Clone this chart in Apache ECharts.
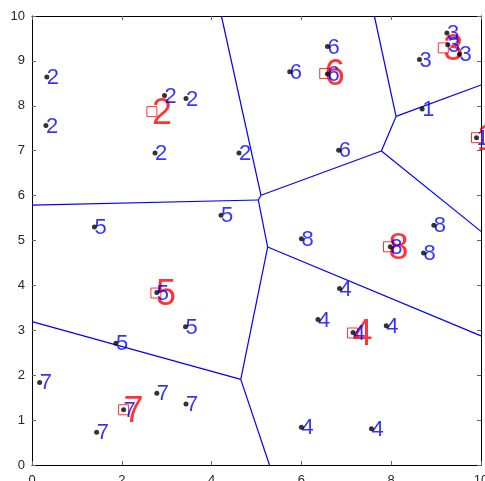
<!DOCTYPE html>
<html>
<head>
<meta charset="utf-8">
<script src="https://cdn.jsdelivr.net/npm/echarts@6/dist/echarts.min.js"></script>
<style>
  html, body { margin: 0; padding: 0; background: #fff; }
  #myChart { width: 485px; height: 481px; }
</style>
</head>
<body>
<div id="myChart"></div>
<script>
// sample points (black dots, blue cluster number)
const ptX = [0.33, 0.31, 2.95, 3.43, 2.74, 4.61,
             1.39, 4.21, 2.78, 3.42, 1.87,
             0.17, 2.78, 3.43, 2.04, 1.44,
             6.58, 5.74, 6.58, 6.83,
             9.24, 9.26, 9.52, 8.63,
             8.69, 9.90,
             8.95, 6.00, 7.98, 8.72,
             6.85, 6.37, 7.15, 7.89, 6.00, 7.56];
const ptY = [8.64, 7.56, 8.23, 8.16, 6.95, 6.95,
             5.30, 5.56, 3.84, 3.08, 2.71,
             1.84, 1.60, 1.36, 1.23, 0.73,
             9.32, 8.76, 8.71, 7.01,
             9.62, 9.36, 9.15, 9.03,
             7.93, 7.29,
             5.34, 5.04, 4.86, 4.72,
             3.93, 3.24, 2.95, 3.10, 0.84, 0.81];
const ptLabel = ['2', '2', '2', '2', '2', '2',
                 '5', '5', '5', '5', '5',
                 '7', '7', '7', '7', '7',
                 '6', '6', '6', '6',
                 '3', '3', '3', '3',
                 '1', '1',
                 '8', '8', '8', '8',
                 '4', '4', '4', '4', '4', '4'];

// cluster centres (red squares, big red number) - also the voronoi sites
const ctrX = [9.90, 2.67, 9.16, 7.14, 2.76, 6.52, 2.04, 7.94];
const ctrY = [7.29, 7.87, 9.29, 2.94, 3.83, 8.72, 1.23, 4.86];
const ctrLabel = ['1', '2', '3', '4', '5', '6', '7', '8'];

const xTicks = [0, 2, 4, 6, 8, 10];
const yTicks = [0, 1, 2, 3, 4, 5, 6, 7, 8, 9, 10];

// voronoi cells: clip the box by half-planes
function voronoiEdges(sx, sy, x0, x1, y0, y1) {
  const segs = [];
  const seen = {};
  const eps = 1e-6;
  for (let i = 0; i < sx.length; i++) {
    let poly = [[x0, y0], [x1, y0], [x1, y1], [x0, y1]];
    for (let j = 0; j < sx.length; j++) {
      if (j === i) continue;
      const a = 2 * (sx[j] - sx[i]), b = 2 * (sy[j] - sy[i]);
      const c = sx[j] * sx[j] + sy[j] * sy[j] - sx[i] * sx[i] - sy[i] * sy[i];
      const f = p => a * p[0] + b * p[1] - c;
      const out = [];
      for (let k = 0; k < poly.length; k++) {
        const p = poly[k], q = poly[(k + 1) % poly.length];
        const fp = f(p), fq = f(q);
        if (fp <= 0) out.push(p);
        if ((fp < 0 && fq > 0) || (fp > 0 && fq < 0)) {
          const t = fp / (fp - fq);
          out.push([p[0] + t * (q[0] - p[0]), p[1] + t * (q[1] - p[1])]);
        }
      }
      poly = out;
    }
    for (let k = 0; k < poly.length; k++) {
      const p = poly[k], q = poly[(k + 1) % poly.length];
      const onBox = (Math.abs(p[0] - x0) < eps && Math.abs(q[0] - x0) < eps) ||
                    (Math.abs(p[0] - x1) < eps && Math.abs(q[0] - x1) < eps) ||
                    (Math.abs(p[1] - y0) < eps && Math.abs(q[1] - y0) < eps) ||
                    (Math.abs(p[1] - y1) < eps && Math.abs(q[1] - y1) < eps);
      if (onBox) continue;
      const k1 = p[0].toFixed(4) + ',' + p[1].toFixed(4);
      const k2 = q[0].toFixed(4) + ',' + q[1].toFixed(4);
      const key = k1 < k2 ? k1 + '|' + k2 : k2 + '|' + k1;
      if (seen[key]) continue;
      seen[key] = true;
      segs.push({ coords: [p, q] });
    }
  }
  return segs;
}

const edges = voronoiEdges(ctrX, ctrY, 0, 10, 0, 10);
const ptData = ptX.map((x, i) => ({ value: [x, ptY[i]], name: ptLabel[i] }));
const ctrData = ctrX.map((x, i) => ({ value: [x, ctrY[i]], name: ctrLabel[i] }));

const font = 'Liberation Sans, Arial, Helvetica, sans-serif';
const axisCommon = {
  type: 'value',
  min: 0,
  max: 10,
  axisLine: { show: true, onZero: false, lineStyle: { color: '#000', width: 1 } },
  axisTick: { show: true, inside: true, length: 4, lineStyle: { color: '#666' } },
  splitLine: { show: false }
};

let myChart = echarts.init(document.getElementById('myChart'));
myChart.setOption({
  animation: false,
  backgroundColor: '#fff',
  grid: { left: 32, right: 4, top: 16, bottom: 16, containLabel: false, outerBoundsMode: 'none' },
  xAxis: [
    Object.assign({}, axisCommon, {
      position: 'bottom', interval: 2,
      axisLabel: { margin: 9, fontSize: 13, color: '#262626', fontFamily: font,
        formatter: v => xTicks.indexOf(v) >= 0 ? String(v) : '' }
    }),
    Object.assign({}, axisCommon, { position: 'top', interval: 2, axisLabel: { show: false } })
  ],
  yAxis: [
    Object.assign({}, axisCommon, {
      position: 'left', interval: 1,
      axisLabel: { margin: 7, fontSize: 13, color: '#262626', fontFamily: font,
        formatter: v => yTicks.indexOf(v) >= 0 ? String(v) : '' }
    }),
    Object.assign({}, axisCommon, { position: 'right', interval: 1, axisLabel: { show: false } })
  ],
  series: [
    {
      type: 'lines',
      coordinateSystem: 'cartesian2d',
      z: 1,
      lineStyle: { color: '#0000ff', width: 1.2, opacity: 1 },
      data: edges
    },
    {
      // big red numbers
      type: 'scatter',
      z: 2,
      symbolSize: 0,
      data: ctrData,
      label: {
        show: true, position: 'inside', align: 'left', verticalAlign: 'middle',
        offset: [0, 2], formatter: p => p.name,
        fontSize: 36, color: '#ff0000', fontFamily: font
      }
    },
    {
      type: 'scatter',
      z: 3,
      symbol: 'rect',
      symbolSize: 10,
      itemStyle: { color: 'rgba(0,0,0,0)', borderColor: '#ff0000', borderWidth: 1 },
      data: ctrData
    },
    {
      // blue numbers
      type: 'scatter',
      z: 4,
      symbolSize: 0,
      data: ptData,
      label: {
        show: true, position: 'inside', align: 'left', verticalAlign: 'middle',
        offset: [0, 1], formatter: p => p.name,
        fontSize: 22, color: '#0000ff', fontFamily: font
      }
    },
    {
      type: 'scatter',
      z: 5,
      symbol: 'circle',
      symbolSize: 5,
      itemStyle: { color: '#000' },
      data: ptData
    }
  ]
});
</script>
</body>
</html>
